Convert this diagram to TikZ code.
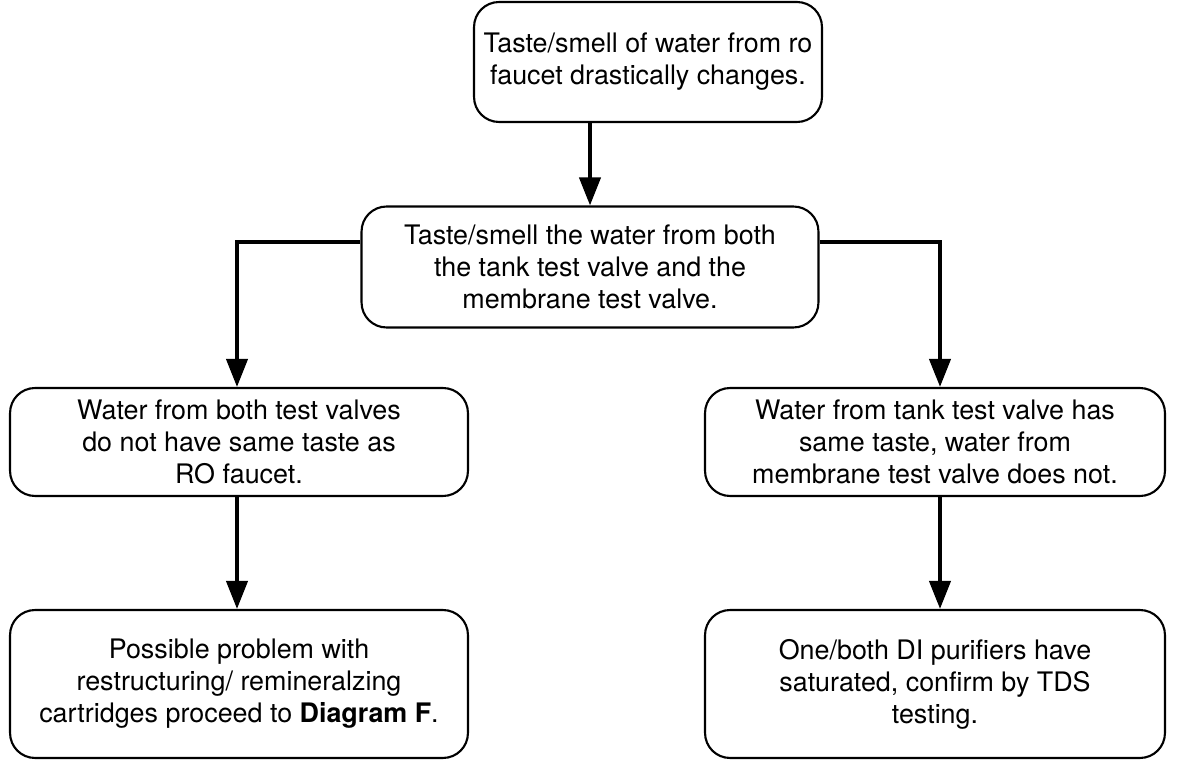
\documentclass[tikz,border=0pt]{standalone}
\usepackage{fontspec}
\setmainfont{TeX Gyre Heros}
\usetikzlibrary{arrows.meta}
\begin{document}
\begin{tikzpicture}[x=0.02cm,y=-0.02cm,
  box/.style={draw,line width=1.2pt,rounded corners=0.5cm,align=center,
    font=\fontsize{15.3}{18.2}\selectfont,inner sep=0pt},
  flow/.style={line width=2.3pt,-{Triangle[length=0.56cm,width=0.42cm]}}]
\useasboundingbox (0,0) rectangle (1180,763);
\node[box,minimum width=6.96cm,minimum height=2.4cm] (smell) at (648,62)
  {Taste/smell of water from ro\\faucet drastically changes.};
\node[box,minimum width=9.14cm,minimum height=2.42cm] (taste) at (590,267)
  {Taste/smell the water from both\\the tank test valve and the\\membrane test valve.};
\node[box,minimum width=9.16cm,minimum height=2.16cm] (both) at (239,442)
  {Water from both test valves\\do not have same taste as\\RO faucet.};
\node[box,minimum width=9.2cm,minimum height=2.16cm] (tank) at (935,442)
  {Water from tank test valve has\\same taste, water from\\membrane test valve does not.};
\node[box,minimum width=9.16cm,minimum height=2.96cm] (cartridge) at (239,684)
  {Possible problem with\\restructuring/ remineralzing\\cartridges proceed to \textbf{Diagram F}.};
\node[box,minimum width=9.2cm,minimum height=2.96cm] (purifier) at (935,684)
  {One/both DI purifiers have\\saturated, confirm by TDS\\testing.};
\draw[flow] (taste.north |- smell.south) -- (taste.north);
\draw[flow] ([yshift=0.5cm]taste.west) -| ([xshift=-0.04cm]both.north);
\draw[flow] ([yshift=0.5cm]taste.east) -| ([xshift=0.1cm]tank.north);
\draw[flow] ([xshift=-0.04cm]both.south) -- ([xshift=-0.04cm]cartridge.north);
\draw[flow] ([xshift=0.1cm]tank.south) -- ([xshift=0.1cm]purifier.north);
\end{tikzpicture}
\end{document}
